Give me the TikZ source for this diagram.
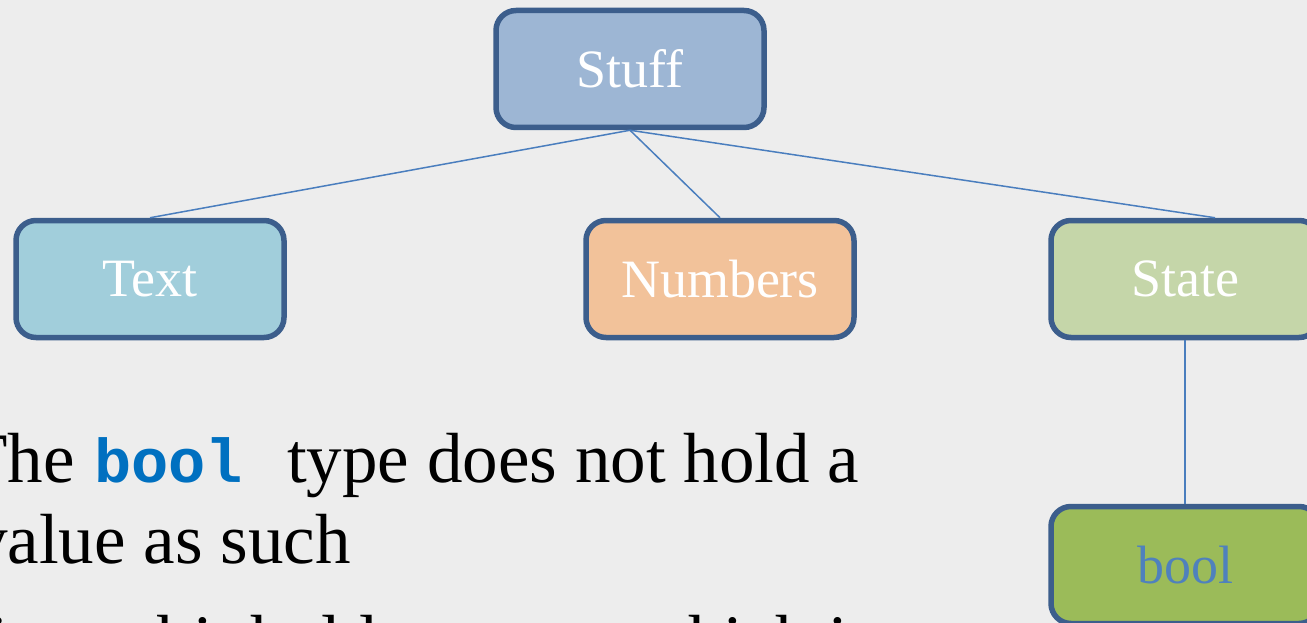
\documentclass[tikz,border=0pt]{standalone}
\usepackage{fontspec}
\setmainfont{Liberation Serif}
\newfontfamily\codefont{Liberation Mono}
\definecolor{slidebg}{HTML}{EDEDED}
\definecolor{boxline}{HTML}{3C5E8C}
\definecolor{linkblue}{HTML}{4A7EBE}
\definecolor{stufffill}{HTML}{9DB6D4}
\definecolor{textfill}{HTML}{A1CEDB}
\definecolor{numfill}{HTML}{F2C29A}
\definecolor{statefill}{HTML}{C5D6A9}
\definecolor{boolfill}{HTML}{9BBB59}
\definecolor{boollabel}{HTML}{4F81BD}
\definecolor{codeblue}{HTML}{0070C0}
\begin{document}
\begin{tikzpicture}[x=1pt,y=-1pt,
  box/.style={draw=boxline, line width=5.5pt, rounded corners=20pt,
    minimum width=268pt, minimum height=117pt, inner sep=0pt,
    font=\fontsize{54}{60}\selectfont, text=white},
  link/.style={draw=linkblue, line width=1.5pt},
  body/.style={anchor=base west, inner sep=0pt, font=\fontsize{71}{80}\selectfont},
  code/.style={anchor=base west, inner sep=0pt, text=codeblue,
    font=\codefont\bfseries\fontsize{62}{70}\selectfont}]
\useasboundingbox (0,0) rectangle (1307,623);
\clip (0,0) rectangle (1307,623);
\fill[slidebg] (0,0) rectangle (1307,623);

% hierarchy boxes
\node[box, fill=stufffill] (stuff) at (630,69) {Stuff};
\node[box, fill=textfill] (text) at (150,279) {Text};
\node[box, fill=numfill] (numbers) at (720,279) {Numbers};
\node[box, fill=statefill] (state) at (1185,279) {State};
\node[box, fill=boolfill, text=boollabel] (bool) at (1185,565) {bool};

% tree connectors
\draw[link] (stuff.south) -- (text.north);
\draw[link] (stuff.south) -- (numbers.north);
\draw[link] (stuff.south) -- ([xshift=30pt]state.north);
\draw[link] (state.south) -- (bool.north);

% body text
\node[body] (lineAa) at (-36,482) {The};
\node[code] (lineAb) at (94,482) {bool};
\node[body] (lineAc) at (287,482) {type does not hold a};
\node[body] (lineB) at (-28,563) {value as such};
\node[body] (lineC) at (-12,664) {just a bit holds a state, which is};
\end{tikzpicture}
\end{document}
